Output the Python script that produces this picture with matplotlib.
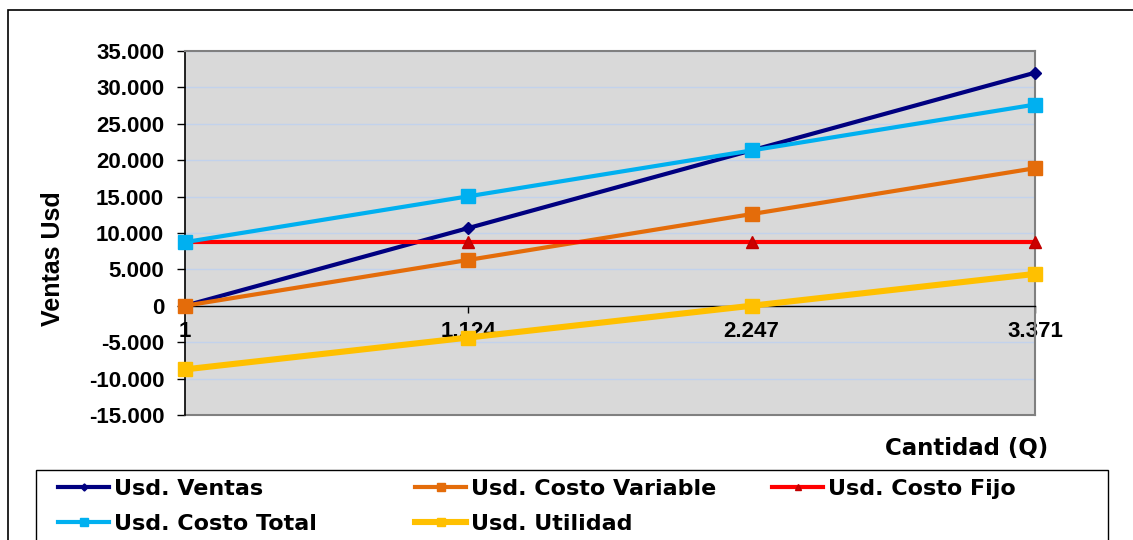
import matplotlib
matplotlib.use("Agg")
import matplotlib.pyplot as plt
from matplotlib.ticker import FuncFormatter, MultipleLocator
from matplotlib.patches import Rectangle

# ---- data ----
cantidad = ["1", "1.124", "2.247", "3.371"]
ventas = [10, 10680, 21350, 32020]
costo_variable = [6, 6300, 12600, 18900]
costo_fijo = [8740, 8740, 8740, 8740]
costo_total = [8746, 15040, 21340, 27640]
utilidad = [-8736, -4360, 10, 4380]

W, H = 1133, 540
fig = plt.figure(figsize=(W / 100, H / 100), dpi=100)
fig.patch.set_facecolor("white")

def fx(px):
    return px / W

def fy(py):
    return 1 - py / H

L, R, T, B = 185, 1035, 51, 415
ax = fig.add_axes([fx(L), fy(B), fx(R) - fx(L), fy(T) - fy(B)])
ax.set_facecolor("#D9D9D9")

x = list(range(len(cantidad)))

series = [
    ("Usd. Ventas", ventas, dict(color="#000080", lw=3.0, marker="D", ms=6,
                                 mfc="#000080", mec="#000080")),
    ("Usd. Costo Variable", costo_variable, dict(color="#E46C0A", lw=3.0, marker="s", ms=10,
                                                 mfc="#E46C0A", mec="#E46C0A")),
    ("Usd. Costo Fijo", costo_fijo, dict(color="#FF0000", lw=3.0, marker="^", ms=8,
                                         mfc="#CC0000", mec="#C00000")),
    ("Usd. Costo Total", costo_total, dict(color="#00B0F0", lw=3.0, marker="s", ms=10,
                                           mfc="#00B0F0", mec="#00B0F0")),
    ("Usd. Utilidad", utilidad, dict(color="#FFC000", lw=4.4, marker="s", ms=10,
                                     mfc="#FFC000", mec="#FFC000")),
]

handles = {}
for i, (name, vals, st) in enumerate(series):
    ln, = ax.plot(x, vals, label=name, clip_on=False, zorder=3 + i, **st)
    handles[name] = ln

ax.set_xlim(0, 3)
ax.set_ylim(-15000, 35000)
ax.yaxis.set_major_locator(MultipleLocator(5000))
ax.yaxis.set_major_formatter(FuncFormatter(lambda v, p: f"{int(round(v)):,}".replace(",", ".")))
ax.set_xticks(x)
ax.set_xticklabels(cantidad)

ax.grid(axis="y", color="#C2D2EC", lw=1.0, zorder=1)
ax.set_axisbelow(True)

ax.spines["bottom"].set_position(("data", 0))
ax.spines["bottom"].set_color("black")
ax.spines["bottom"].set_linewidth(1.0)
ax.spines["left"].set_color("black")
ax.spines["left"].set_linewidth(1.2)
for s in ("top", "right"):
    ax.spines[s].set_color("#808080")
    ax.spines[s].set_linewidth(1.5)
ax.axhline(-15000, color="#808080", lw=1.5, zorder=2, clip_on=False)

ax.tick_params(axis="y", direction="out", length=6, width=1, pad=9, colors="black")
ax.tick_params(axis="x", direction="out", length=5, width=1, pad=6, colors="black")
for lab in ax.get_yticklabels() + ax.get_xticklabels():
    lab.set_fontfamily("Liberation Sans")
    lab.set_fontweight("bold")
    lab.set_fontsize(16)

# axis titles
fig.text(fx(53), fy(259), "Ventas Usd", rotation=90, ha="center", va="center",
         family="Liberation Sans", weight="bold", size=18)
fig.text(fx(1048), fy(449), "Cantidad (Q)", ha="right", va="center",
         family="DejaVu Sans", weight="bold", size=16.5)

# outer frame and legend frame
fig.patches.append(Rectangle((fx(8), -0.2), 1.2, fy(10) + 0.2, transform=fig.transFigure,
                             fill=False, ec="black", lw=1.2, clip_on=False))
fig.patches.append(Rectangle((fx(36), -0.2), fx(1108) - fx(36), fy(470) + 0.2,
                             transform=fig.transFigure, fill=False, ec="black", lw=1.0,
                             clip_on=False))

# legend entries
leg_pos = {
    "Usd. Ventas": (58, 489),
    "Usd. Costo Variable": (415, 489),
    "Usd. Costo Fijo": (772, 489),
    "Usd. Costo Total": (58, 524),
    "Usd. Utilidad": (415, 524),
}
for name, (px, py) in leg_pos.items():
    h = handles[name]
    lg = fig.legend([h], [name], loc="center left", bbox_to_anchor=(fx(px), fy(py)),
                    bbox_transform=fig.transFigure, frameon=False, borderpad=0,
                    borderaxespad=0, handlelength=2.3, handletextpad=0.2,
                    prop=dict(family="DejaVu Sans", weight="bold", size=16))
    for lh in lg.legend_handles:
        lh.set_markersize(lh.get_markersize() * 0.6)

fig.savefig("out.png", dpi=100)
